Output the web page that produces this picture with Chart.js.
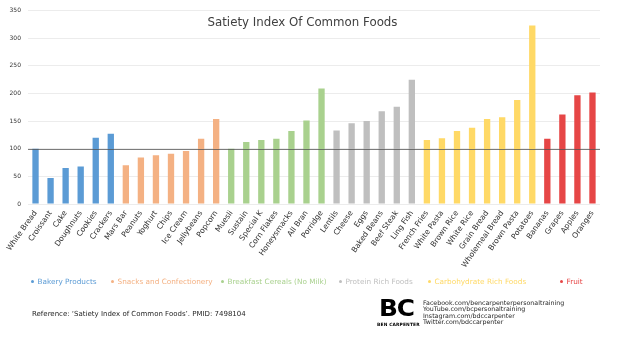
<!DOCTYPE html>
<html>
<head>
<meta charset="utf-8">
<script src="https://cdn.jsdelivr.net/npm/chart.js@4.4.1/dist/chart.umd.min.js"></script>
<style>
  html, body { margin: 0; padding: 0; background: #ffffff; }
  #wrap { position: relative; width: 619px; height: 342px; overflow: hidden;
          font-family: "DejaVu Sans", Verdana, sans-serif; }
  #chart { position: absolute; left: 0; top: 0; }
  #title { position: absolute; left: 0; width: 605px; top: 16px; text-align: center;
           font-size: 11.8px; line-height: 12px; color: #404040; white-space: nowrap; }
  .legend-item { position: absolute; top: 277px; font-size: 7.3px; line-height: 9px; white-space: nowrap; }
  .legend-item .dot { display: inline-block; width: 3px; height: 3px; border-radius: 50%;
                      margin-right: 4px; vertical-align: 1px; }
  .legend-item:nth-child(1) { left: 30.5px; }
  .legend-item:nth-child(2) { left: 110.5px; }
  .legend-item:nth-child(3) { left: 220.5px; }
  .legend-item:nth-child(4) { left: 338.5px; }
  .legend-item:nth-child(5) { left: 427.5px; }
  .legend-item:nth-child(6) { left: 559.5px; }
  #source { position: absolute; left: 32px; top: 310px; font-size: 7px; line-height: 9px;
            color: #262626; white-space: nowrap; }
  #logo { position: absolute; left: 379px; top: 297.4px; font-family: "DejaVu Sans", sans-serif;
          font-weight: bold; font-size: 23px; line-height: 23px; color: #000;
          transform: scaleX(1.08); transform-origin: left top; letter-spacing: -1px; }
  #brand { position: absolute; left: 377px; top: 321.5px; font-weight: bold; font-size: 4.4px;
           line-height: 5px; color: #000; letter-spacing: 0.15px; white-space: nowrap; }
  #social { position: absolute; left: 423px; top: 299.5px; font-size: 6.3px; line-height: 6.5px;
            color: #262626; white-space: nowrap; }
</style>
</head>
<body>
<div id="wrap">
  <canvas id="chart" width="619" height="342"></canvas>
  <div id="title">Satiety Index Of Common Foods</div>
  <div id="legend"></div>
  <div id="source">Reference: ‘Satiety Index of Common Foods’. PMID: 7498104</div>
  <div id="logo">BC</div>
  <div id="brand">BEN CARPENTER</div>
  <div id="social">Facebook.com/bencarpenterpersonaltraining<br>YouTube.com/bcpersonaltraining<br>Instagram.com/bdccarpenter<br>Twitter.com/bdccarpenter</div>
</div>
<script>
// Foods, in chart order
const foods = [
  'White Bread', 'Croissant', 'Cake', 'Doughnuts', 'Cookies', 'Crackers',
  'Mars Bar', 'Peanuts', 'Yoghurt', 'Chips', 'Ice Cream', 'Jellybeans', 'Popcorn',
  'Muesli', 'Sustain', 'Special K', 'Corn Flakes', 'Honeysmacks', 'All Bran', 'Porridge',
  'Lentils', 'Cheese', 'Eggs', 'Baked Beans', 'Beef Steak', 'Ling Fish',
  'French Fries', 'White Pasta', 'Brown Rice', 'White Rice', 'Grain Bread', 'Wholemeal Bread', 'Brown Pasta', 'Potatoes',
  'Bananas', 'Grapes', 'Apples', 'Oranges'
];

// Satiety index score for each food (white bread = 100)
const satiety = [
  100, 47, 65, 68, 120, 127,
  70, 84, 88, 91, 96, 118, 154,
  100, 112, 116, 118, 132, 151, 209,
  133, 146, 150, 168, 176, 225,
  116, 119, 132, 138, 154, 157, 188, 323,
  118, 162, 197, 202
];

// Food group index for each food
const foodGroup = [
  0, 0, 0, 0, 0, 0,
  1, 1, 1, 1, 1, 1, 1,
  2, 2, 2, 2, 2, 2, 2,
  3, 3, 3, 3, 3, 3,
  4, 4, 4, 4, 4, 4, 4, 4,
  5, 5, 5, 5
];

const groupNames = [
  'Bakery Products', 'Snacks and Confectionery', 'Breakfast Cereals (No Milk)',
  'Protein Rich Foods', 'Carbohydrate Rich Foods', 'Fruit'
];
const groupColors = ['#5B9BD5', '#F4B183', '#A9D18E', '#BFBFBF', '#FFD966', '#E64646'];

const yTicks = [0, 50, 100, 150, 200, 250, 300, 350];
const referenceScore = 100;

// Legend built from the food groups
const legendEl = document.getElementById('legend');
groupNames.forEach((name, i) => {
  const item = document.createElement('div');
  item.className = 'legend-item';
  item.style.color = groupColors[i];
  const dot = document.createElement('span');
  dot.className = 'dot';
  dot.style.background = groupColors[i];
  item.appendChild(dot);
  item.appendChild(document.createTextNode(name));
  legendEl.appendChild(item);
});

// Horizontal line marking the white-bread reference score
const referenceLine = {
  id: 'referenceLine',
  afterDatasetsDraw(chart) {
    const { ctx, chartArea, scales } = chart;
    const py = Math.round(scales.y.getPixelForValue(referenceScore)) + 0.5;
    ctx.save();
    ctx.strokeStyle = 'rgba(80,80,80,0.75)';
    ctx.lineWidth = 1;
    ctx.beginPath();
    ctx.moveTo(chartArea.left, py);
    ctx.lineTo(chartArea.right, py);
    ctx.stroke();
    ctx.restore();
  }
};

new Chart(document.getElementById('chart'), {
  type: 'bar',
  data: {
    labels: foods,
    datasets: [{
      data: satiety,
      backgroundColor: foodGroup.map(g => groupColors[g]),
      borderWidth: 0,
      barPercentage: 0.42,
      categoryPercentage: 1
    }]
  },
  options: {
    responsive: false,
    devicePixelRatio: 1,
    animation: false,
    layout: { padding: { left: 4, right: 19, top: 10, bottom: 68 } },
    plugins: { legend: { display: false }, title: { display: false }, tooltip: { enabled: false } },
    scales: {
      x: {
        grid: { display: false, drawTicks: false },
        border: { display: false },
        ticks: {
          autoSkip: false, minRotation: 55, maxRotation: 55, padding: 5,
          color: '#333333', font: { family: 'DejaVu Sans', size: 7.6 }
        },
        afterFit(s) { s.height = 70; }
      },
      y: {
        min: 0, max: 350,
        afterBuildTicks(s) { s.ticks = yTicks.map(v => ({ value: v })); },
        grid: { color: '#ececec', lineWidth: 1, drawTicks: false },
        border: { display: false },
        ticks: { padding: 7, color: '#333333', font: { family: 'DejaVu Sans', size: 6 } },
        afterFit(s) { s.width = 24; }
      }
    }
  },
  plugins: [referenceLine]
});
</script>
</body>
</html>
